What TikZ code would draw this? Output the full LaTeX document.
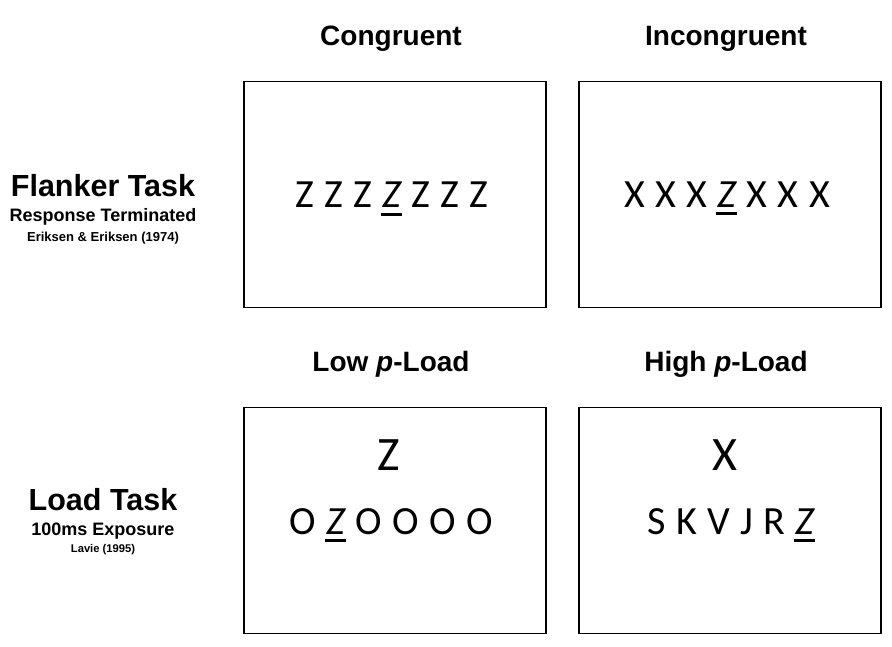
\documentclass[tikz,border=0pt]{standalone}
\usepackage{fontspec}
\setmainfont{Liberation Sans}
\newfontfamily\stimfont[WordSpace={1.15}]{Carlito}
\newcommand{\targetZ}{\setbox0=\hbox{\itshape Z}\rlap{\kern-0.04em\rule[-0.2em]{\dimexpr\wd0+0.06em\relax}{0.07em}}\box0}

\tikzset{
  stimbox/.style={draw, line width=1.7pt, minimum width=302pt, minimum height=226pt, inner sep=0pt},
  colhead/.style={anchor=base, inner sep=0pt, font=\fontsize{28}{30}\selectfont\bfseries},
  taskname/.style={anchor=base, inner sep=0pt, font=\fontsize{30.5}{32}\selectfont\bfseries},
  taskinfo/.style={anchor=base, inner sep=0pt, font=\fontsize{18}{20}\selectfont\bfseries},
  taskref/.style={anchor=base, inner sep=0pt, font=\fontsize{#1}{14}\selectfont\bfseries},
  stimrow/.style={anchor=base, inner sep=0pt, font=\fontsize{40}{40}\selectfont\stimfont},
  probe/.style={anchor=base, inner sep=0pt, font=\fontsize{48}{48}\selectfont\stimfont}
}

\begin{document}
\begin{tikzpicture}[x=1pt, y=-1pt]
\useasboundingbox (0,0) rectangle (892,646);

\node[stimbox] (congbox) at (395,194.5) {};
\node[stimbox] (incbox) at (730,194.5) {};
\node[stimbox] (lowbox) at (395,520.5) {};
\node[stimbox] (highbox) at (730,520.5) {};

\node[colhead] (conghead) at (391,45) {Congruent};
\node[colhead] (inchead) at (726,45) {Incongruent};
\node[colhead] (lowhead) at (391,371.5) {Low \textit{p}-Load};
\node[colhead] (highhead) at (726,371.5) {High \textit{p}-Load};

\node[taskname] (flanker) at (103,196.7) {Flanker Task};
\node[taskinfo] (flankerinfo) at (103,221.7) {Response Terminated};
\node[taskref=13] (flankerref) at (103,241.7) {Eriksen \& Eriksen (1974)};
\node[taskname] (load) at (103,510.7) {Load Task};
\node[taskinfo] (loadinfo) at (103,535) {100ms Exposure};
\node[taskref=11.2] (loadref) at (103,552.3) {Lavie (1995)};

\node[stimrow] (congrow) at (392,207.5) {Z Z Z \targetZ{} Z Z Z};
\node[stimrow] (incrow) at (727,207) {X X X \targetZ{} X X X};
\node[probe] (lowprobe) at (389,470.7) {Z};
\node[probe] (highprobe) at (725,470.7) {X};
\node[stimrow] (lowrow) at (391,534) {O \targetZ{} O O O O};
\node[stimrow] (highrow) at (731,534) {S K V J R \targetZ};

\end{tikzpicture}
\end{document}
